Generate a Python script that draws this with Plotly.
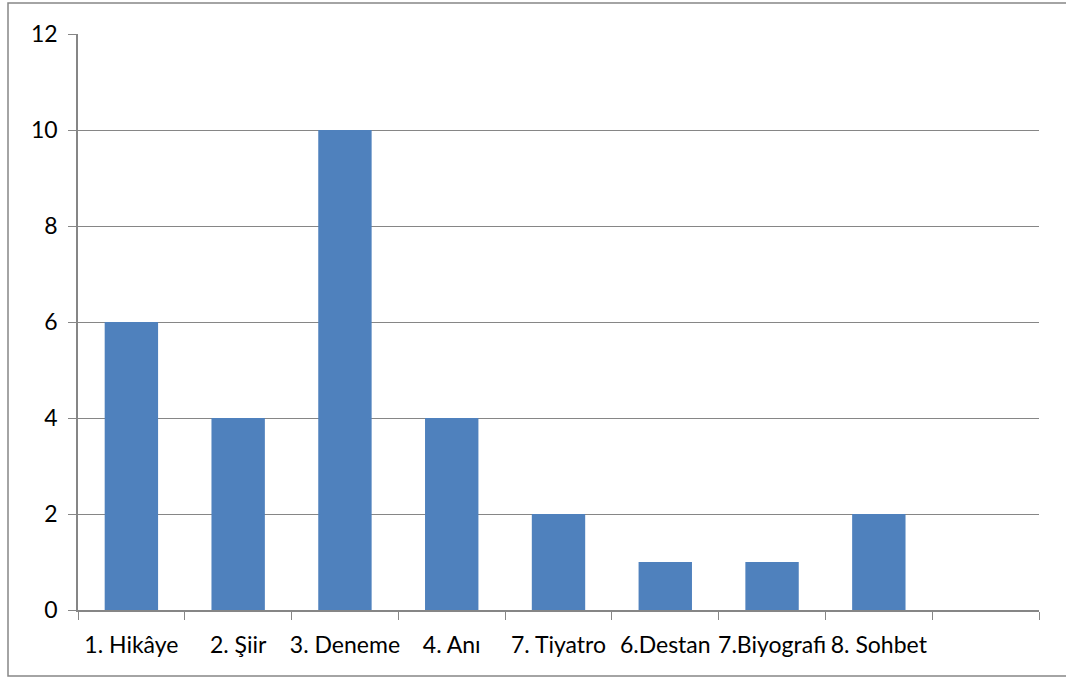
import plotly.graph_objects as go

categories = ["1. Hikâye", "2. Şiir", "3. Deneme", "4. Anı", "7. Tiyatro", "6.Destan", "7.Biyografi", "8. Sohbet", " "]
values = [6, 4, 10, 4, 2, 1, 1, 2, None]
y_ticks = [0, 2, 4, 6, 8, 10, 12]

L, R, T, B = 78, 27, 34, 67
W, H = 1066, 677
pw, ph = W - L - R, H - T - B

fig = go.Figure(go.Bar(x=categories, y=values, marker=dict(color="#4F81BD", line=dict(width=0)), width=0.5))

fig.update_layout(
    width=W, height=H,
    margin=dict(l=L, r=R, t=T, b=B),
    paper_bgcolor="white", plot_bgcolor="white",
    font=dict(family="Lato", size=23, color="black"),
    showlegend=False,
    bargap=0.5,
)
fig.update_xaxes(
    type="category", tickson="boundaries", ticks="outside", ticklen=8, tickcolor="#868686",
    showline=True, linecolor="#868686", linewidth=1.5, showgrid=False,
    ticklabelstandoff=14, tickangle=0, automargin=False,
)
fig.update_yaxes(
    range=[0, 12], tickvals=y_ticks, ticks="outside", ticklen=8, tickcolor="#868686",
    showline=True, linecolor="#868686", linewidth=1.5,
    showgrid=True, gridcolor="#868686", gridwidth=1.3, zeroline=False,
    ticklabelstandoff=6, automargin=False,
)
fig.add_shape(type="rect", xref="paper", yref="paper",
              x0=(8 - L) / pw, x1=(1075 - L) / pw,
              y0=-(676 - (T + ph)) / ph, y1=((T + ph) - 3) / ph,
              line=dict(color="#868686", width=1.5), layer="below")

fig.write_html("out.html", config={"displayModeBar": False},
               post_script="document.body.style.margin='0';document.body.style.overflow='hidden';")
